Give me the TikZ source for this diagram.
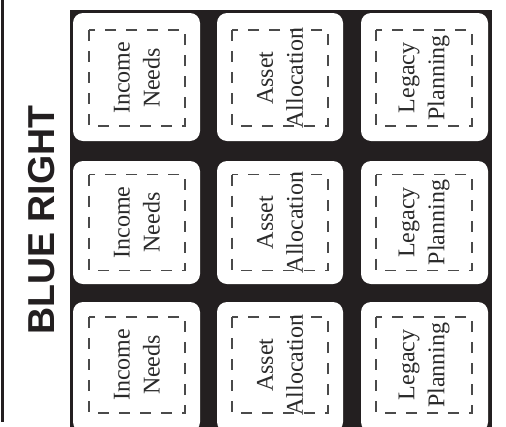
\documentclass[tikz,border=0pt]{standalone}
\usepackage{fontspec}
\setmainfont{Liberation Serif}
\newfontfamily\headfont{Liberation Sans}
\definecolor{ink}{HTML}{231F20}
\definecolor{dashgray}{HTML}{4A4A4A}
\definecolor{txt}{HTML}{2A2A2A}
\begin{document}
\begin{tikzpicture}[x=1pt,y=-1pt,
  cellbox/.style={fill=white, rounded corners=10pt},
  dashbox/.style={draw=dashgray, line width=1.2pt, dash pattern=on 11pt off 10pt},
  celltext/.style={rotate=90, align=center, font=\fontsize{24}{30}\selectfont, text=txt, inner sep=0pt},
  headtext/.style={rotate=90, font=\headfont\bfseries\fontsize{37.5}{40}\selectfont, text=ink, inner sep=0pt}]
\useasboundingbox (0,0) rectangle (506,426);
\clip (0,0) rectangle (506,426);
\fill[ink] (1,0) rectangle (4,422);
\fill[ink] (70,10) rectangle (492,440);
\node[headtext] (title) at (42,220) {BLUE RIGHT};
\foreach \c/\xa/\xb/\cx/\lbl in {1/73/200/137/{Income\\Needs}, 2/217/343/280/{Asset\\Allocation}, 3/361/488/424/{Legacy\\Planning}} {
  \foreach \r/\ya/\yb/\cy in {1/13/141/78, 2/161/284/222.5, 3/302/432/365} {
    \fill[cellbox] (\xa,\ya) rectangle (\xb,\yb);
    \draw[dashbox] (\cx-48,\cy-48) rectangle (\cx+48,\cy+48);
    \node[celltext] (t\c\r) at (\cx,\cy) {\lbl};
  }
}
\end{tikzpicture}
\end{document}
